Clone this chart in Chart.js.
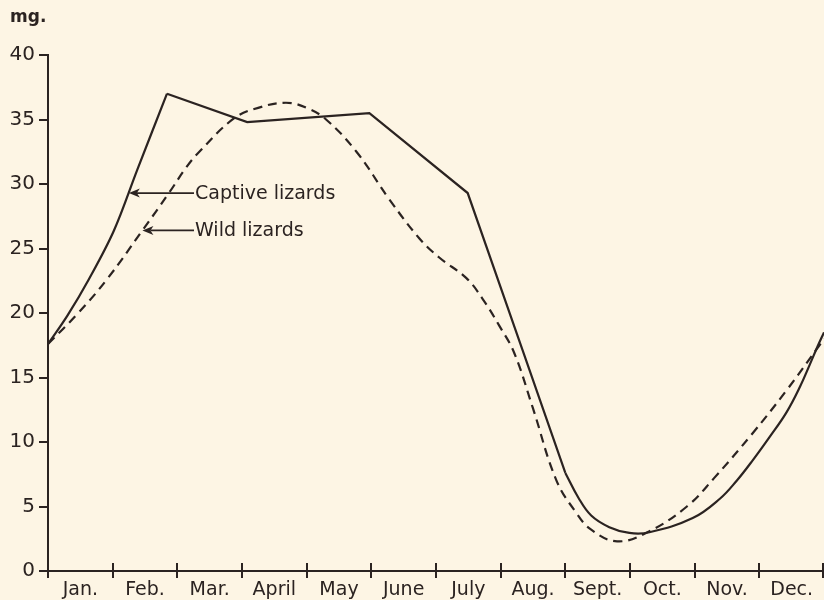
<!DOCTYPE html>
<html>
<head>
<meta charset="utf-8">
<script src="https://cdn.jsdelivr.net/npm/chart.js@4"></script>
<style>
  html, body { margin: 0; padding: 0; background: #fdf5e4; }
  #wrap { width: 824px; height: 600px; position: relative; }
</style>
</head>
<body>
<div id="wrap"><canvas id="lizardChart"></canvas></div>
<script>
var months = ["Jan.", "Feb.", "Mar.", "April", "May", "June", "July", "Aug.", "Sept.", "Oct.", "Nov.", "Dec."];

// captive lizards (solid line), x in months from start of Jan.
var captiveX = [0, 0.3, 0.63, 1.02, 1.38, 1.84, 3.08, 4.97, 6.49, 7.34, 8.0, 8.2, 8.4, 8.68, 8.99, 9.3, 9.97, 10.39, 10.65, 10.9, 11.16, 11.42, 11.63, 11.78, 11.9, 12];
var captiveY = [17.6, 19.8, 22.6, 26.4, 31.1, 37.0, 34.8, 35.5, 29.3, 17.1, 7.6, 5.7, 4.3, 3.4, 2.95, 3.0, 4.1, 5.6, 7.0, 8.6, 10.4, 12.3, 14.3, 16.0, 17.4, 18.5];
// the solid line is drawn straight between these indexes, curved elsewhere
var captiveStraight = [5, 10];

// wild lizards (dashed line)
var wildX = [0, 0.45, 0.91, 1.46, 1.87, 2.14, 2.34, 2.88, 3.25, 3.68, 4.0, 4.3, 4.77, 5.28, 5.74, 6.05, 6.47, 6.72, 6.98, 7.21, 7.5, 7.86, 8.17, 8.4, 8.8, 9.27, 9.88, 10.3, 10.9, 11.42, 11.93, 12];
var wildY = [17.6, 19.9, 22.6, 26.4, 29.3, 31.3, 32.5, 35.1, 35.9, 36.3, 35.9, 35.0, 32.5, 28.8, 25.8, 24.3, 22.7, 21.1, 19.0, 16.9, 12.6, 7.05, 4.5, 3.2, 2.3, 3.0, 5.0, 7.2, 10.7, 14.0, 17.5, 18.0];

// arrow labels: text, and the point on the curve the arrow touches
var notes = [
  { text: "Captive lizards", x: 1.25, y: 29.3 },
  { text: "Wild lizards", x: 1.46, y: 26.4 }
];

var ink = "#2b2321";
var font = "'DejaVu Sans', sans-serif";

function pts(xs, ys, from, to) {
  var out = [];
  for (var i = from; i <= to; i++) out.push({ x: xs[i], y: ys[i] });
  return out;
}

function line(data, extra) {
  var ds = {
    data: data,
    borderColor: ink,
    borderWidth: 2.2,
    pointRadius: 0,
    fill: false
  };
  for (var k in extra) ds[k] = extra[k];
  return ds;
}

var extras = {
  id: "extras",
  afterDraw: function (chart) {
    var c = chart.ctx, xs = chart.scales.x, ys = chart.scales.y;
    var base = ys.getPixelForValue(0);
    c.save();
    c.strokeStyle = ink;
    c.fillStyle = ink;
    c.lineWidth = 2;
    // month tick marks crossing the axis
    for (var m = 0; m <= 12; m++) {
      var px = Math.round(xs.getPixelForValue(m));
      if (m === 12) px -= 1;
      c.beginPath();
      c.moveTo(px, base - 8);
      c.lineTo(px, base + 7);
      c.stroke();
    }
    // unit label
    c.font = "600 17px " + font;
    c.textBaseline = "middle";
    c.textAlign = "left";
    c.fillText("mg.", 10, 18);
    // arrow notes
    c.font = "19px " + font;
    notes.forEach(function (n) {
      var tx = xs.getPixelForValue(n.x), ty = ys.getPixelForValue(n.y);
      var startText = 195;
      c.lineWidth = 1.8;
      c.beginPath();
      c.moveTo(tx + 8, ty);
      c.lineTo(startText - 1, ty);
      c.stroke();
      c.beginPath();
      c.moveTo(tx, ty);
      c.lineTo(tx + 11, ty - 4.5);
      c.lineTo(tx + 8, ty);
      c.lineTo(tx + 11, ty + 4.5);
      c.closePath();
      c.fill();
      c.fillText(n.text, startText, ty + 1);
    });
    c.restore();
  }
};

var a = captiveStraight[0], b = captiveStraight[1];
var ctx = document.getElementById("lizardChart").getContext("2d");
var lizardChart = new Chart(ctx, {
  type: "line",
  plugins: [extras],
  data: {
    datasets: [
      line(pts(captiveX, captiveY, 0, a), { label: "Captive lizards", tension: 0.35 }),
      line(pts(captiveX, captiveY, a, b), { label: "Captive lizards", tension: 0 }),
      line(pts(captiveX, captiveY, b, captiveX.length - 1), { label: "Captive lizards", tension: 0.4 }),
      line(pts(wildX, wildY, 0, wildX.length - 1), { label: "Wild lizards", tension: 0.4, borderDash: [9, 6] })
    ]
  },
  options: {
    responsive: true,
    maintainAspectRatio: false,
    animation: false,
    layout: { padding: { top: 55, left: 0, right: 0, bottom: 0 } },
    plugins: {
      legend: { display: false },
      tooltip: { enabled: false }
    },
    scales: {
      x: {
        type: "linear",
        min: 0,
        max: 12,
        afterBuildTicks: function (scale) {
          var t = [];
          for (var i = 0; i < 12; i++) t.push({ value: i + 0.5 });
          scale.ticks = t;
        },
        afterFit: function (scale) { scale.height = 29; },
        grid: { display: false },
        border: { display: true, color: ink, width: 2 },
        ticks: {
          autoSkip: false,
          maxRotation: 0,
          padding: 0,
          color: ink,
          font: { family: font, size: 19 },
          callback: function (v) { return months[Math.floor(v)]; }
        }
      },
      y: {
        min: 0,
        max: 40,
        afterFit: function (scale) { scale.width = 48; },
        grid: { drawOnChartArea: false, drawTicks: true, tickLength: 9, color: ink, lineWidth: 2 },
        border: { display: true, color: ink, width: 2 },
        ticks: {
          stepSize: 5,
          padding: 4,
          color: ink,
          font: { family: font, size: 20 }
        }
      }
    }
  }
});
</script>
</body>
</html>
